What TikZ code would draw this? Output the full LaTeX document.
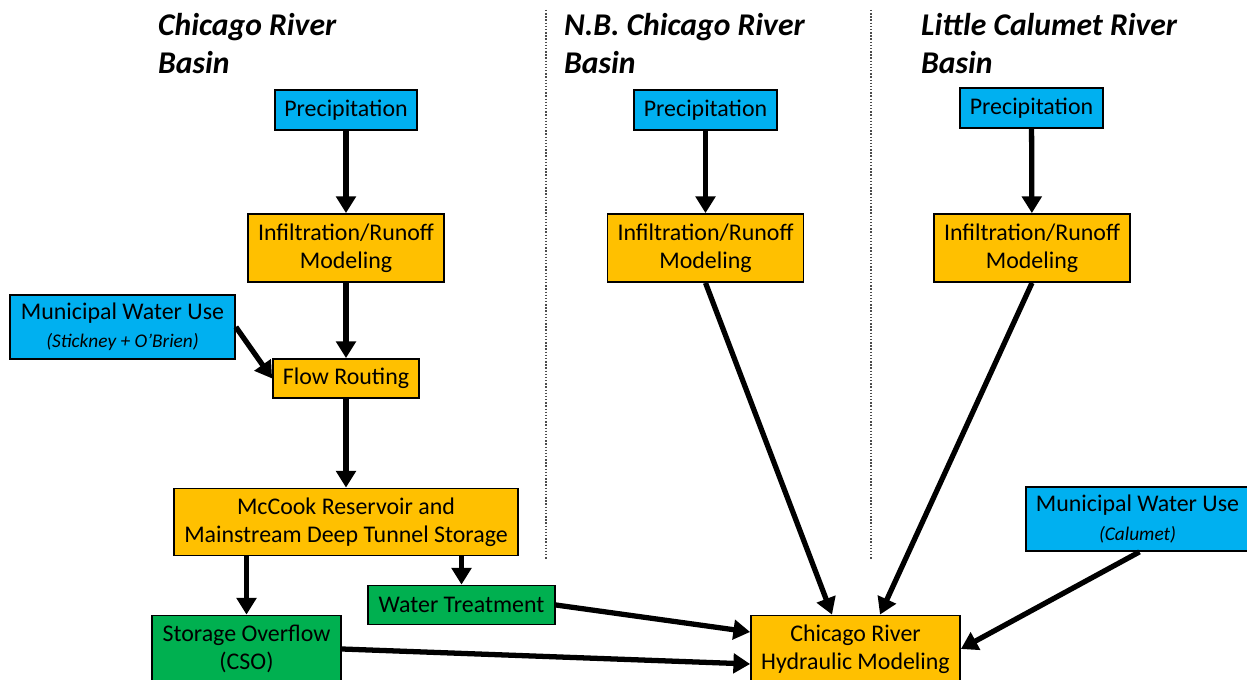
\documentclass[tikz,border=0pt]{standalone}
\usepackage{fontspec}
\setmainfont{Carlito}
\usetikzlibrary{arrows.meta, positioning}

\definecolor{inblue}{HTML}{00B0F0}
\definecolor{modorange}{HTML}{FFC000}
\definecolor{outgreen}{HTML}{00B050}

\begin{document}
\begin{tikzpicture}[on grid, auto,
  box/.style={draw, line width=1pt, inner sep=0pt, align=center,
    font=\fontsize{13.6}{16}\selectfont},
  inbox/.style={box, fill=inblue},
  modbox/.style={box, fill=modorange},
  outbox/.style={box, fill=outgreen},
  basin/.style={anchor=north west, align=left,
    font=\fontsize{18}{21.5}\selectfont\bfseries\itshape},
  link/.style={line width=3pt, -{Triangle[length=9.5pt, width=11pt]}},
  divider/.style={densely dotted, line width=0.8pt, gray!60!black}]

\useasboundingbox (0,0) rectangle (24.94,13.6);

% basin headings and separators
\node[basin] (h1) at (3.04,13.46) {Chicago River\\Basin};
\node[basin] (h2) at (11.16,13.46) {N.B. Chicago River\\Basin};
\node[basin] (h3) at (18.3,13.46) {Little Calumet River\\Basin};
\draw[divider] (10.92,13.4) -- (10.92,2.4);
\draw[divider] (17.42,13.4) -- (17.42,2.4);

% Chicago River basin
\node[inbox, minimum width=2.84cm, minimum height=0.8cm] (prec1) at (6.92,11.40) {Precipitation};
\node[modbox, minimum width=3.92cm, minimum height=1.36cm] (infil1) [below=2.76cm of prec1] {Infiltration/Runoff\\Modeling};
\node[modbox, minimum width=2.92cm, minimum height=0.78cm] (route) [below=2.61cm of infil1] {Flow Routing};
\node[inbox, minimum width=4.5cm, minimum height=1.28cm] (muni1) at (2.45,7.06) {Municipal Water Use\\{\fontsize{11}{13}\selectfont\itshape (Stickney + O'Brien)}};
\node[modbox, minimum width=6.88cm, minimum height=1.34cm] (mccook) [below=2.87cm of route] {McCook Reservoir and\\Mainstream Deep Tunnel Storage};
\node[outbox, minimum width=3.74cm, minimum height=0.78cm] (treat) at (9.23,1.50) {Water Treatment};
\node[outbox, minimum width=3.78cm, minimum height=1.34cm] (cso) at (4.93,0.62) {Storage Overflow\\(CSO)};

% N.B. Chicago River basin
\node[inbox, minimum width=2.86cm, minimum height=0.8cm] (prec2) at (14.11,11.40) {Precipitation};
\node[modbox, minimum width=3.92cm, minimum height=1.36cm] (infil2) [below=2.76cm of prec2] {Infiltration/Runoff\\Modeling};

% Little Calumet River basin
\node[inbox, minimum width=2.86cm, minimum height=0.8cm] (prec3) at (20.63,11.44) {Precipitation};
\node[modbox, minimum width=3.92cm, minimum height=1.36cm] (infil3) at (20.64,8.64) {Infiltration/Runoff\\Modeling};
\node[inbox, minimum width=4.46cm, minimum height=1.28cm] (muni3) at (22.75,3.22) {Municipal Water Use\\{\fontsize{11}{13}\selectfont\itshape (Calumet)}};

\node[modbox, minimum width=4.18cm, minimum height=1.34cm] (hydro) at (17.11,0.62) {Chicago River\\Hydraulic Modeling};

\path[link]
  (prec1) edge (infil1)
  (infil1) edge (route)
  (muni1.east) edge (route.west)
  (route) edge (mccook)
  (cso.north |- mccook.south) edge (cso.north)
  (treat.north |- mccook.south) edge (treat.north)
  (prec2) edge (infil2)
  (prec3) edge (infil3)
  (treat.east) edge ([yshift=0.34cm]hydro.west)
  (cso.east) edge ([yshift=-0.3cm]hydro.west)
  (infil2.south) edge ([xshift=-0.47cm]hydro.north)
  (infil3.south) edge ([xshift=0.49cm]hydro.north)
  ([xshift=0.04cm]muni3.south) edge (hydro.east);

\end{tikzpicture}
\end{document}
